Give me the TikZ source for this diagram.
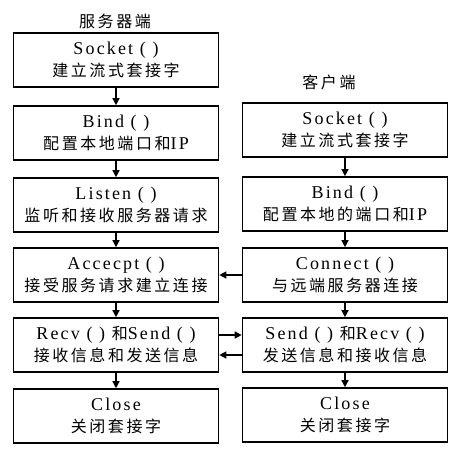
\documentclass[tikz,border=0pt]{standalone}
\usepackage{fontspec}
\usepackage{tikz}
\usetikzlibrary{arrows.meta,positioning}
\setmainfont{Liberation Serif}[LetterSpace=12]
\newfontfamily\cjkfam{Noto Sans CJK SC}[LetterSpace=16]
\newcommand{\zh}[1]{{\cjkfam\fontsize{16pt}{22pt}\selectfont #1}}

\begin{document}
\begin{tikzpicture}[
  x=1pt, y=-1pt, >={Triangle[length=7pt,width=7pt]},
  box/.style={rectangle,draw,line width=1.6pt,minimum width=205pt,minimum height=54pt,
    inner sep=0pt,align=center,font=\fontsize{18pt}{22pt}\selectfont},
  lbl/.style={font=\fontsize{18pt}{22pt}\selectfont},
  every edge/.style={draw,->,line width=1.3pt}
]
\useasboundingbox (0,0) rectangle (462,448);
% server side
\node[lbl] (srv) at (115,21) {\zh{服务器端}};
\node[box] (s1) at (116,60)  {Socket ( )\\\zh{建立流式套接字}};
\node[box] (s2) at (116,133) {Bind ( )\\\zh{配置本地端口和}IP};
\node[box] (s3) at (116,205) {Listen ( )\\\zh{监听和接收服务器请求}};
\node[box] (s4) at (116,275) {Accecpt ( )\\\zh{接受服务请求建立连接}};
\node[box] (s5) at (116,345) {Recv ( ) \zh{和}Send ( )\\\zh{接收信息和发送信息}};
\node[box] (s6) at (116,416) {Close\\\zh{关闭套接字}};
% client side
\node[lbl] (cli) at (329,82) {\zh{客户端}};
\node[box] (c1) at (345,130) {Socket ( )\\\zh{建立流式套接字}};
\node[box] (c2) at (345,204) {Bind ( )\\\zh{配置本地的端口和}IP};
\node[box] (c3) at (345,275) {Connect ( )\\\zh{与远端服务器连接}};
\node[box] (c4) at (345,345) {Send ( ) \zh{和}Recv ( )\\\zh{发送信息和接收信息}};
\node[box] (c5) at (345,415) {Close\\\zh{关闭套接字}};
\draw (s1) edge (s2); \draw (s2) edge (s3); \draw (s3) edge (s4);
\draw (s4) edge (s5); \draw (s5) edge (s6);
\draw (c1) edge (c2); \draw (c2) edge (c3); \draw (c3) edge (c4);
\draw (c4) edge (c5);
\draw (c3.west) edge (s4.east);
\draw ([yshift=10pt]s5.east) edge ([yshift=10pt]c4.west);
\draw ([yshift=-10pt]c4.west) edge ([yshift=-10pt]s5.east);
\end{tikzpicture}
\end{document}
